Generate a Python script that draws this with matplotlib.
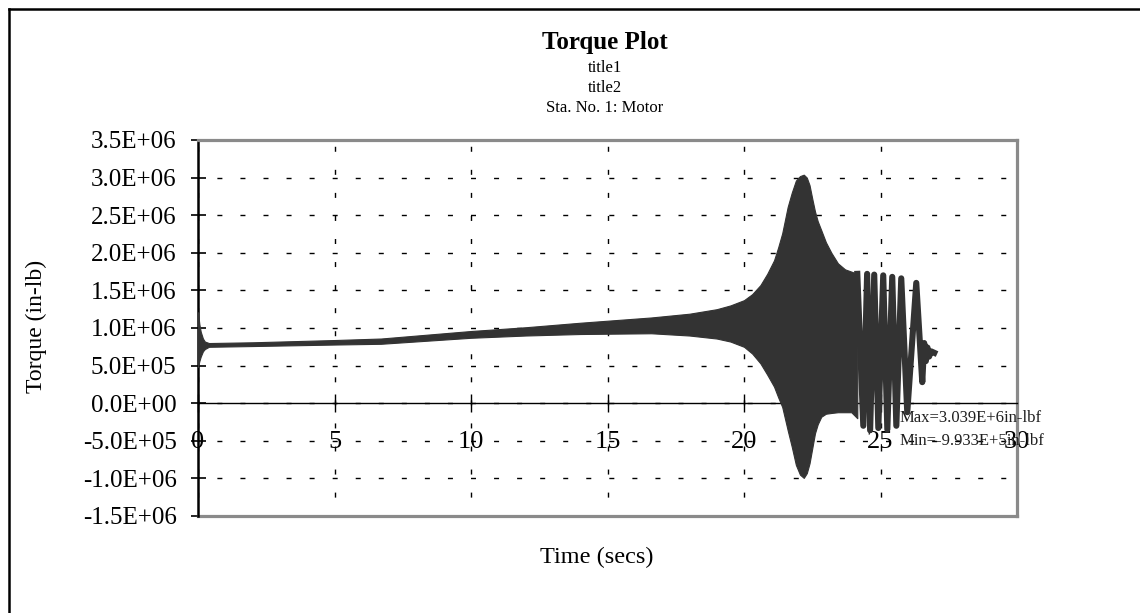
import matplotlib
matplotlib.use("Agg")
import matplotlib.pyplot as plt
from matplotlib.lines import Line2D
from matplotlib.ticker import FuncFormatter

plt.rcParams['font.family'] = ['Liberation Serif', 'DejaVu Serif']
plt.rcParams['lines.scale_dashes'] = False

max_torque = 3.039e6
min_torque = -9.933e5

# envelope of the fast torque oscillation: start-up, slow ramp, resonance
env_time = [0.0, 0.05, 0.1, 0.18, 0.25, 0.4, 2.0, 5.0, 6.7, 10.0, 12.0, 14.0,
            16.6, 18.0, 19.0, 19.5, 20.0, 20.3, 20.6, 20.85, 21.1, 21.25,
            21.4, 21.6, 21.75, 21.9, 22.05, 22.19, 22.3, 22.4, 22.5, 22.6,
            22.7, 22.83, 23.0, 23.2, 23.44, 23.7, 23.93, 24.15]
env_upper = [1.21e6, 1.05e6, 0.95e6, 0.86e6, 0.82e6, 0.80e6, 0.81e6, 0.84e6,
             0.86e6, 0.96e6, 1.01e6, 1.07e6, 1.14e6, 1.19e6, 1.25e6, 1.30e6,
             1.37e6, 1.45e6, 1.57e6, 1.72e6, 1.90e6, 2.07e6, 2.26e6, 2.61e6,
             2.80e6, 2.96e6, 3.02e6, max_torque, 3.00e6, 2.90e6, 2.72e6,
             2.55e6, 2.42e6, 2.30e6, 2.14e6, 2.00e6, 1.86e6, 1.78e6, 1.75e6,
             1.72e6]
env_lower = [0.48e6, 0.56e6, 0.62e6, 0.69e6, 0.72e6, 0.75e6, 0.76e6, 0.78e6,
             0.79e6, 0.87e6, 0.90e6, 0.92e6, 0.93e6, 0.90e6, 0.86e6, 0.82e6,
             0.75e6, 0.66e6, 0.53e6, 0.38e6, 0.22e6, 0.08e6, -0.05e6,
             -0.36e6, -0.58e6, -0.82e6, -0.95e6, min_torque, -0.93e6,
             -0.80e6, -0.60e6, -0.40e6, -0.28e6, -0.18e6, -0.14e6, -0.13e6,
             -0.12e6, -0.12e6, -0.12e6, -0.20e6]

# individual swings after resonance, down to the final settled value
late_time = [24.15, 24.37, 24.51, 24.62, 24.77, 24.92, 25.10, 25.25, 25.43,
             25.58, 25.76, 25.98, 26.31, 26.53, 26.60, 26.66, 26.72, 26.78,
             26.85, 26.97]
late_torque = [1.72e6, -0.30e6, 1.72e6, -0.36e6, 1.71e6, -0.33e6, 1.70e6,
               -0.35e6, 1.68e6, -0.30e6, 1.66e6, -0.12e6, 1.60e6, 0.28e6,
               0.80e6, 0.56e6, 0.74e6, 0.62e6, 0.69e6, 0.67e6]

x_ticks = [0, 5, 10, 15, 20, 25, 30]
y_ticks = [-1.5e6, -1.0e6, -0.5e6, 0.0, 0.5e6, 1.0e6, 1.5e6, 2.0e6, 2.5e6,
           3.0e6, 3.5e6]

W, H = 1140, 613
fig = plt.figure(figsize=(W / 100, H / 100), dpi=100)
ax = fig.add_axes([198 / W, 1 - 516 / H, (1017 - 198) / W, (516 - 140) / H])

trace = '#333333'
ax.fill_between(env_time, env_lower, env_upper, color=trace, lw=0.8, zorder=3)
ax.plot(late_time, late_torque, color=trace, lw=4.4, zorder=3)

ax.set_xlim(0, 30)
ax.set_ylim(-1.5e6, 3.5e6)
ax.set_xticks(x_ticks)
ax.set_yticks(y_ticks)
ax.yaxis.set_major_formatter(FuncFormatter(lambda v, p: f"{v:.1E}"))

frame_gray = '#8a8a8a'
ax.spines['left'].set_color('black')
ax.spines['left'].set_linewidth(1.8)
for side in ('top', 'right'):
    ax.spines[side].set_color(frame_gray)
    ax.spines[side].set_linewidth(2.3)
ax.spines['bottom'].set_position(('data', 0))
ax.spines['bottom'].set_color('black')
ax.spines['bottom'].set_linewidth(1.0)
ax.plot([0, 1], [0, 0], transform=ax.transAxes, color=frame_gray, lw=2.3,
        clip_on=False, zorder=2.4)

ax.grid(True, color='black', lw=1.0, linestyle=(3, (3.6, 13)))
ax.set_axisbelow(True)
ax.tick_params(axis='x', direction='inout', length=13.5, width=1.0, pad=13,
               labelsize=19)
ax.tick_params(axis='y', direction='inout', length=10.8, width=1.2, pad=10,
               labelsize=18)

fig.text(605 / W, 1 - 42 / H, 'Torque Plot', fontsize=18, fontweight='bold',
         ha='center', va='center')
fig.text(605 / W, 1 - 68 / H, 'title1', fontsize=12, ha='center', va='center')
fig.text(605 / W, 1 - 88 / H, 'title2', fontsize=12, ha='center', va='center')
fig.text(605 / W, 1 - 108 / H, 'Sta. No. 1: Motor', fontsize=12,
         ha='center', va='center')
fig.text(36 / W, 1 - 326 / H, 'Torque (in-lb)', fontsize=17, rotation=90,
         ha='center', va='center')
fig.text(597 / W, 1 - 557 / H, 'Time (secs)', fontsize=17.5,
         ha='center', va='center')

fig.text(900 / W, 1 - 418 / H, f"Max={max_torque / 1e6:.3f}E+6in-lbf",
         fontsize=12, color='#1f1f1f', va='center')
fig.text(900 / W, 1 - 441 / H, f"Min={min_torque / 1e5:.3f}E+5in-lbf",
         fontsize=12, color='#1f1f1f', va='center')

# page border
fig.add_artist(Line2D([9 / W, 9 / W], [0, 1 - 9 / H], color='black', lw=1.8))
fig.add_artist(Line2D([9 / W, 1], [1 - 9 / H, 1 - 9 / H], color='black', lw=1.8))

fig.savefig('out.png', dpi=100)
